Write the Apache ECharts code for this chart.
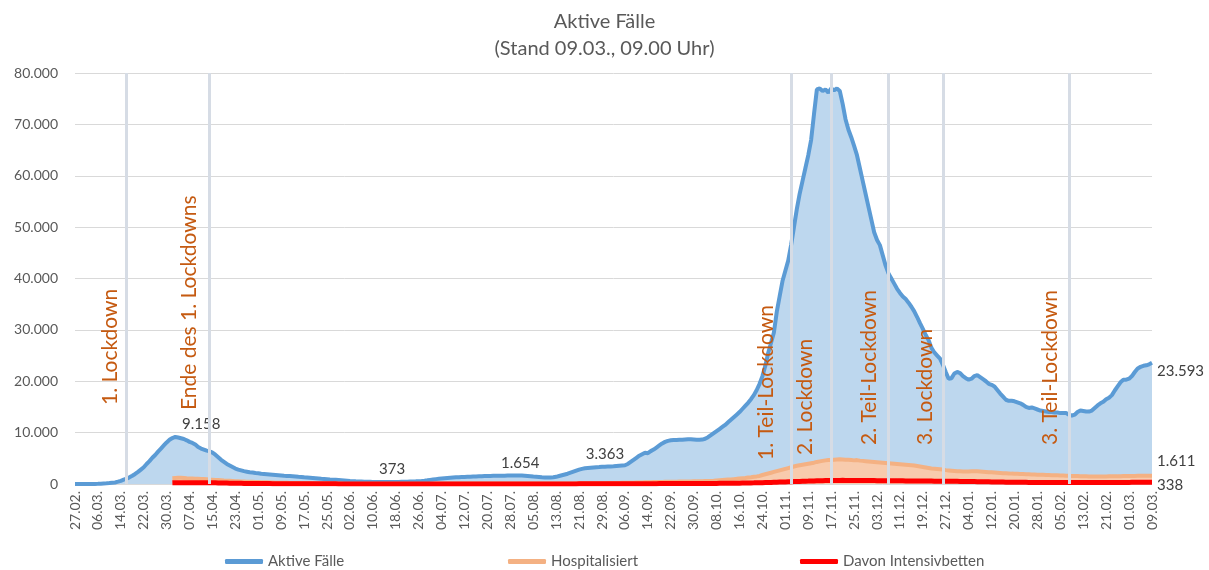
<!DOCTYPE html>
<html>
<head>
<meta charset="utf-8">
<script src="https://cdn.jsdelivr.net/npm/echarts@6/dist/echarts.min.js"></script>
<style>
  html, body { margin: 0; padding: 0; background: #fff; }
  #chart { width: 1209px; height: 570px; }
</style>
</head>
<body>
<div id="chart"></div>
<script>
// Tage 27.02.2020 – 09.03.2021
const startDate = new Date(Date.UTC(2020, 1, 27));
const dayCount = 377;
const days = [];
for (let i = 0; i < dayCount; i++) {
  const d = new Date(startDate.getTime() + i * 86400000);
  days.push(String(d.getUTCDate()).padStart(2, '0') + '.' + String(d.getUTCMonth() + 1).padStart(2, '0') + '.');
}

// Aktive Fälle, ab 27.02.
const activeCases = [
  2, 3, 5, 9, 10, 14, 18, 24, 37, 55,
  100, 130, 180, 240, 300, 450, 620, 850, 1050, 1300,
  1600, 1950, 2350, 2800, 3250, 3900, 4450, 5100, 5650, 6300,
  6900, 7500, 8100, 8600, 8950, 9158, 9050, 8900, 8750, 8500,
  8200, 8000, 7700, 7200, 6900, 6700, 6500, 6350, 6100, 5700,
  5200, 4700, 4300, 3900, 3600, 3300, 3000, 2800, 2650, 2500,
  2400, 2300, 2250, 2150, 2100, 2000, 1950, 1900, 1850, 1800,
  1750, 1700, 1650, 1600, 1580, 1550, 1520, 1480, 1420, 1380,
  1300, 1250, 1200, 1150, 1100, 1050, 1000, 960, 920, 880,
  850, 820, 780, 740, 700, 650, 600, 560, 520, 490,
  470, 450, 430, 420, 410, 400, 395, 390, 385, 380,
  373, 380, 390, 400, 420, 440, 460, 480, 500, 520,
  560, 600, 650, 720, 800, 880, 950, 1000, 1050, 1100,
  1150, 1200, 1250, 1300, 1330, 1360, 1380, 1400, 1420, 1450,
  1480, 1500, 1520, 1540, 1560, 1580, 1590, 1600, 1610, 1620,
  1630, 1640, 1650, 1654, 1660, 1654, 1640, 1600, 1560, 1520,
  1450, 1400, 1350, 1300, 1280, 1260, 1250, 1300, 1400, 1550,
  1700, 1850, 2000, 2200, 2400, 2600, 2800, 2950, 3050, 3100,
  3150, 3200, 3250, 3300, 3363, 3380, 3400, 3420, 3450, 3500,
  3550, 3600, 3650, 3900, 4300, 4700, 5100, 5500, 5800, 6100,
  6000, 6400, 6700, 7100, 7500, 7900, 8200, 8400, 8500, 8550,
  8550, 8600, 8600, 8650, 8700, 8700, 8650, 8600, 8600, 8650,
  8800, 9100, 9500, 9900, 10300, 10700, 11100, 11500, 12000, 12500,
  13000, 13500, 14000, 14600, 15200, 15800, 16500, 17300, 18300, 19500,
  21000, 23000, 25500, 27500, 29500, 33500, 36500, 39500, 41500, 43500,
  46500, 50000, 53500, 56500, 59000, 61500, 64000, 67000, 72000, 76800,
  77000, 76500, 76800, 76200, 77000, 76600, 77000, 76500, 74000, 71000,
  69000, 67500, 65800, 64000, 61500, 59000, 56500, 54000, 51500, 49000,
  47500, 46500, 44500, 42500, 41000, 40000, 39000, 38000, 37200, 36500,
  36000, 35300, 34500, 33600, 32500, 31300, 30200, 29000, 28000, 26500,
  25600, 25000, 24400, 23200, 21800, 20500, 20600, 21500, 21800, 21600,
  21000, 20600, 20300, 20500, 21000, 21200, 20800, 20400, 20000, 19500,
  19300, 19000, 18300, 17600, 17000, 16400, 16200, 16200, 16100, 15900,
  15700, 15400, 15000, 14800, 14900, 14700, 14500, 14300, 14200, 14100,
  14000, 14000, 13900, 13900, 13800, 13800, 13800, 13500, 13300, 13500,
  14000, 14300, 14200, 14100, 14100, 14300, 14800, 15300, 15700, 16000,
  16500, 16800, 17300, 18200, 19000, 19800, 20300, 20300, 20500, 21000,
  21800, 22500, 22800, 23000, 23100, 23300, 23593
];

// Hospitalisiert, ab 01.04.
const hospitalised = [
  1100, 1150, 1200, 1200, 1150, 1100, 1080, 1050, 1020, 1000,
  980, 950, 920, 880, 850, 800, 760, 720, 680, 650,
  620, 590, 560, 530, 500, 480, 460, 440, 420, 400,
  380, 360, 340, 320, 300, 280, 260, 250, 240, 230,
  220, 210, 200, 190, 180, 170, 160, 150, 140, 130,
  120, 115, 110, 105, 100, 95, 90, 85, 80, 75,
  70, 68, 66, 64, 62, 60, 58, 56, 55, 54,
  52, 50, 50, 50, 48, 48, 47, 47, 46, 46,
  46, 46, 47, 48, 50, 52, 54, 56, 60, 64,
  68, 72, 76, 80, 84, 88, 92, 96, 100, 104,
  106, 108, 110, 112, 112, 112, 112, 112, 110, 110,
  108, 108, 106, 105, 104, 102, 100, 100, 98, 98,
  96, 96, 95, 95, 94, 94, 93, 93, 92, 92,
  92, 92, 94, 96, 98, 100, 104, 108, 112, 116,
  120, 124, 128, 132, 136, 140, 145, 150, 155, 160,
  165, 170, 175, 180, 190, 200, 210, 220, 230, 240,
  250, 265, 280, 295, 310, 325, 340, 355, 370, 385,
  400, 410, 420, 430, 440, 450, 460, 470, 480, 490,
  500, 510, 520, 530, 540, 550, 565, 580, 600, 620,
  700, 740, 780, 820, 860, 900, 950, 1000, 1060, 1120,
  1180, 1250, 1320, 1400, 1480, 1570, 1750, 1900, 2050, 2200,
  2350, 2500, 2650, 2800, 2950, 3100, 3250, 3400, 3550, 3650,
  3750, 3850, 3950, 4050, 4150, 4300, 4400, 4500, 4600, 4650,
  4650, 4700, 4750, 4800, 4750, 4700, 4700, 4650, 4600, 4650,
  4550, 4500, 4450, 4400, 4350, 4300, 4250, 4200, 4150, 4100,
  4050, 4000, 3950, 3900, 3850, 3800, 3750, 3700, 3650, 3600,
  3500, 3400, 3300, 3200, 3100, 3000, 2950, 2900, 2850, 2800,
  2700, 2650, 2600, 2550, 2500, 2480, 2450, 2430, 2450, 2480,
  2500, 2480, 2450, 2400, 2350, 2300, 2280, 2250, 2200, 2150,
  2100, 2080, 2050, 2020, 2000, 1980, 1950, 1930, 1900, 1880,
  1860, 1840, 1820, 1800, 1780, 1760, 1740, 1720, 1700, 1680,
  1660, 1640, 1620, 1600, 1580, 1560, 1540, 1520, 1500, 1490,
  1480, 1470, 1460, 1460, 1460, 1470, 1480, 1490, 1500, 1510,
  1520, 1530, 1540, 1550, 1560, 1570, 1580, 1590, 1600, 1605,
  1608, 1610, 1611
];

// Davon Intensivbetten, ab 01.04.
const icuBeds = [
  220, 235, 245, 250, 255, 260, 265, 267, 265, 260,
  255, 250, 245, 240, 230, 220, 210, 200, 190, 180,
  170, 160, 150, 140, 130, 120, 115, 110, 105, 100,
  95, 90, 85, 80, 75, 70, 65, 62, 60, 57,
  55, 52, 50, 48, 46, 44, 42, 40, 38, 36,
  34, 32, 30, 29, 28, 27, 26, 25, 24, 23,
  22, 21, 20, 20, 19, 18, 17, 16, 15, 15,
  14, 14, 13, 13, 12, 12, 12, 11, 11, 10,
  10, 10, 10, 10, 11, 11, 12, 12, 13, 13,
  14, 15, 15, 16, 17, 18, 19, 20, 21, 22,
  22, 22, 23, 23, 24, 24, 24, 24, 23, 23,
  22, 22, 21, 21, 20, 20, 20, 19, 19, 18,
  18, 18, 17, 17, 17, 17, 17, 17, 17, 17,
  17, 18, 18, 19, 19, 20, 20, 21, 22, 22,
  23, 24, 25, 26, 27, 28, 29, 30, 31, 32,
  33, 34, 35, 36, 38, 40, 42, 44, 46, 48,
  50, 52, 55, 58, 60, 62, 65, 68, 70, 72,
  75, 78, 80, 82, 84, 86, 88, 90, 92, 94,
  96, 98, 100, 102, 104, 106, 108, 110, 113, 116,
  120, 125, 130, 135, 140, 145, 150, 160, 170, 180,
  190, 200, 210, 220, 235, 250, 265, 280, 295, 310,
  330, 350, 370, 390, 410, 430, 450, 470, 490, 510,
  530, 550, 567, 585, 600, 615, 630, 645, 660, 670,
  680, 690, 700, 705, 709, 705, 700, 700, 695, 690,
  685, 680, 675, 670, 665, 660, 655, 650, 645, 640,
  635, 630, 625, 620, 615, 610, 605, 600, 595, 590,
  585, 580, 575, 570, 565, 560, 555, 550, 545, 540,
  535, 530, 525, 520, 515, 510, 500, 495, 490, 480,
  470, 460, 450, 440, 430, 420, 410, 400, 390, 380,
  370, 360, 350, 345, 340, 335, 330, 325, 320, 315,
  310, 305, 300, 298, 296, 294, 292, 290, 288, 286,
  284, 282, 280, 280, 280, 280, 280, 282, 284, 286,
  288, 290, 292, 294, 296, 298, 300, 302, 304, 306,
  308, 310, 312, 314, 316, 318, 320, 325, 330, 334,
  336, 337, 338
];

// Maßnahmen
const eventDays = ['16.03.', '14.04.', '03.11.', '17.11.', '07.12.', '26.12.', '08.02.'];
const eventNames = ['1. Lockdown', 'Ende des 1. Lockdowns', '1. Teil-Lockdown', '2. Lockdown',
  '2. Teil-Lockdown', '3. Lockdown', '3. Teil-Lockdown'];

// beschriftete Werte (Index im Tages-Array)
const activeLabelIdx = [35, 110, 153, 184, 376];

const fmt = v => String(Math.round(v)).replace(/\B(?=(\d{3})+(?!\d))/g, '.');
const font = 'Lato, "Noto Sans", sans-serif';
const grey = '#595959';

const hospStart = days.indexOf('01.04.');
const padded = arr => new Array(hospStart).fill(null).concat(arr);

const valueLabel = extra => Object.assign({
  show: true, formatter: p => fmt(p.value), color: '#404040', fontSize: 15, fontFamily: font
}, extra);

const activeLabelStyle = [
  { position: 'top', offset: [26, 0] },
  { position: 'top', offset: [2, 0] },
  { position: 'top', offset: [7, 0] },
  { position: 'top', offset: [3, 0] },
  { position: 'right', offset: [0, 8] }
];

const activeData = activeCases.map((v, i) => {
  const k = activeLabelIdx.indexOf(i);
  return k < 0 ? v : { value: v, label: valueLabel(activeLabelStyle[k]) };
});

const lastLabel = (arr, offset) => padded(arr).map((v, i) => i === dayCount - 1
  ? { value: v, label: valueLabel({ position: 'right', offset }) }
  : v);

const eventDist = [[79, 6], [74, 10], [24, 14], [29, 15], [39, 9], [39, 7], [39, 8]];

const lineBase = {
  type: 'line',
  symbol: 'circle',
  symbolSize: 0,
  showSymbol: true,
  showAllSymbol: true,
  silent: true
};

const chart = echarts.init(document.getElementById('chart'));
chart.setOption({
  animation: false,
  textStyle: { fontFamily: font },
  title: {
    text: 'Aktive Fälle\n(Stand 09.03., 09.00 Uhr)',
    left: 'center',
    top: 3,
    textStyle: { fontSize: 20, fontWeight: 'normal', color: grey, lineHeight: 27, fontFamily: font }
  },
  legend: [
    { data: ['Aktive Fälle'], left: 220, top: 549 },
    { data: ['Hospitalisiert'], left: 503, top: 549 },
    { data: ['Davon Intensivbetten'], left: 795, top: 549 }
  ].map(l => Object.assign(l, {
    icon: 'roundRect', itemWidth: 38, itemHeight: 5, itemGap: 4,
    textStyle: { color: grey, fontSize: 15, fontFamily: font }
  })),
  grid: { left: 75, right: 57, top: 73, bottom: 86 },
  xAxis: {
    type: 'category',
    data: days,
    boundaryGap: false,
    axisLine: { show: false },
    axisTick: { show: false },
    axisLabel: { interval: 7, rotate: 90, color: grey, fontSize: 14, margin: 7, fontFamily: font }
  },
  yAxis: {
    type: 'value',
    min: 0, max: 80000, interval: 10000,
    axisLabel: { formatter: fmt, color: grey, fontSize: 14, margin: 17, fontFamily: font },
    splitLine: { lineStyle: { color: '#d9d9d9', width: 1 } }
  },
  series: [
    Object.assign({}, lineBase, {
      name: 'Aktive Fälle',
      data: activeData,
      lineStyle: { color: '#5b9bd5', width: 4 },
      itemStyle: { color: '#5b9bd5' },
      areaStyle: { color: '#bdd7ee', opacity: 1 },
      z: 2,
      markLine: {
        silent: true,
        symbol: 'none',
        lineStyle: { color: '#d6dce5', width: 3, type: 'solid' },
        data: eventDays.map((d, i) => ({
          xAxis: d,
          label: {
            show: true,
            formatter: eventNames[i],
            position: 'insideStartTop',
            distance: eventDist[i],
            color: '#c55a11',
            fontSize: 21,
            fontFamily: font
          }
        }))
      }
    }),
    Object.assign({}, lineBase, {
      name: 'Hospitalisiert',
      data: lastLabel(hospitalised, [0, -15]),
      lineStyle: { color: '#f4b183', width: 4 },
      itemStyle: { color: '#f4b183' },
      areaStyle: { color: '#f8cbad', opacity: 1 },
      z: 3
    }),
    Object.assign({}, lineBase, {
      name: 'Davon Intensivbetten',
      data: lastLabel(icuBeds, [0, 3]),
      lineStyle: { color: '#ff0000', width: 5 },
      itemStyle: { color: '#ff0000' },
      z: 4
    })
  ]
});
</script>
</body>
</html>
